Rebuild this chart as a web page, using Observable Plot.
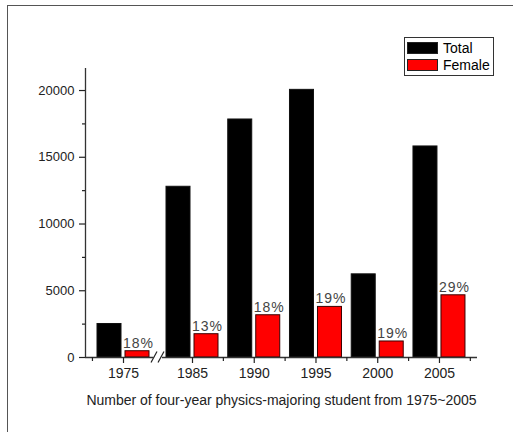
<!DOCTYPE html>
<html><head><meta charset="utf-8">
<script src="https://cdn.jsdelivr.net/npm/d3@7"></script>
<script src="https://cdn.jsdelivr.net/npm/@observablehq/plot@0.6"></script>
<style>
html,body{margin:0;padding:0;background:#fff;overflow:hidden;width:513px;height:432px}
#frame{position:absolute;left:7px;top:5px;width:600px;height:600px;border:1.5px solid #555;box-sizing:border-box}
#chart{position:absolute;left:0;top:0}
#legend{position:absolute;left:404px;top:37px;width:90px;height:39px;border:1.5px solid #333;box-sizing:border-box;background:#fff;font:14px "Liberation Sans",Arial,sans-serif;color:#000}
.sw{position:absolute;left:2px;width:31px;height:12px;box-sizing:border-box;border:1px solid #222}
.lt{position:absolute;left:38px;line-height:14px}
g[aria-label="text"] text{letter-spacing:1px}
</style>
</head><body>
<div id="frame"></div>
<div id="chart"></div>
<div id="legend">
  <div class="sw" style="top:4px;background:#000"></div><div class="lt" style="top:3px">Total</div>
  <div class="sw" style="top:21px;background:#f00"></div><div class="lt" style="top:20px">Female</div>
</div>
<script>
const years = [1975, 1985, 1990, 1995, 2000, 2005];
const total = [2510, 12790, 17830, 20050, 6230, 15810];
const female = [470, 1745, 3165, 3790, 1200, 4660];
const pctLabels = ["18%", "13%", "18%", "19%", "19%", "29%"];
const yTicks = [0, 5000, 10000, 15000, 20000];
const yMinor = [2500, 7500, 12500, 17500];
const xMinor = [1972.5, 1987.5, 1992.5, 1997.5, 2002.5, 2007.5];
const breakAt = 1980;
const xTitle = "Number of four-year physics-majoring student from 1975~2005";

const rows = years.map((year, i) => ({year, total: total[i], female: female[i], pct: pctLabels[i]}));
const xDomain = [1971.94, 1975, 1985, 2008.08];
const xRange = [85, 123, 192, 477];
const yMax = 21650;
const font = "Liberation Sans, Arial, sans-serif";

const breakMark = (index, {x, y}) => {
  const cx = x(breakAt), cy = y(0);
  const g = d3.create("svg:g");
  g.append("rect").attr("x", cx - 4.5).attr("y", cy - 2).attr("width", 9).attr("height", 4).attr("fill", "white");
  for (const off of [-3.5, 3.5]) {
    g.append("line")
      .attr("x1", cx + off - 3).attr("y1", cy + 5.5)
      .attr("x2", cx + off + 3).attr("y2", cy - 5.5)
      .attr("stroke", "#222").attr("stroke-width", 1.2);
  }
  return g.node();
};

const chart = Plot.plot({
  width: 513, height: 432,
  marginTop: 68, marginBottom: 75, marginLeft: 85, marginRight: 36,
  x: {type: "linear", domain: xDomain, range: xRange, label: null},
  y: {domain: [0, yMax], label: null},
  style: {fontFamily: font, fontSize: "13px", color: "#111", background: "transparent"},
  marks: [
    Plot.rectY(rows, {x1: "year", x2: "year", y1: 0, y2: "total", fill: "#000", stroke: "#111", strokeWidth: 1, insetLeft: -12, insetRight: -12, dx: -14}),
    Plot.rectY(rows, {x1: "year", x2: "year", y1: 0, y2: "female", fill: "#ff0000", stroke: "#3a0000", strokeWidth: 1, insetLeft: -12, insetRight: -12, dx: 14}),
    Plot.text(rows, {x: "year", y: "female", text: "pct", dx: 15, dy: -8, fill: "#444", fontSize: 14, fontFamily: font}),
    Plot.ruleX([xDomain[0]], {y1: 0, y2: yMax, stroke: "#333", strokeWidth: 1.3}),
    Plot.ruleY([0], {stroke: "#333", strokeWidth: 1.3}),
    Plot.axisY({ticks: yTicks, tickSize: 6, tickPadding: 5, tickFormat: d => String(d), color: "#222", strokeWidth: 1.2, fontSize: 13}),
    Plot.axisY({ticks: yMinor, tickSize: 3, tickFormat: () => "", color: "#222", strokeWidth: 1.2}),
    Plot.axisX({ticks: years, tickSize: 6, tickPadding: 5, tickFormat: d => String(d), color: "#222", strokeWidth: 1.2,
      label: xTitle, labelAnchor: "center", labelOffset: 47, labelArrow: "none", fontSize: 14}),
    Plot.axisX({ticks: xMinor, tickSize: 4, tickFormat: () => "", color: "#222", strokeWidth: 1.2, label: null}),
    breakMark
  ]
});
document.getElementById("chart").appendChild(chart);
</script>
</body></html>
